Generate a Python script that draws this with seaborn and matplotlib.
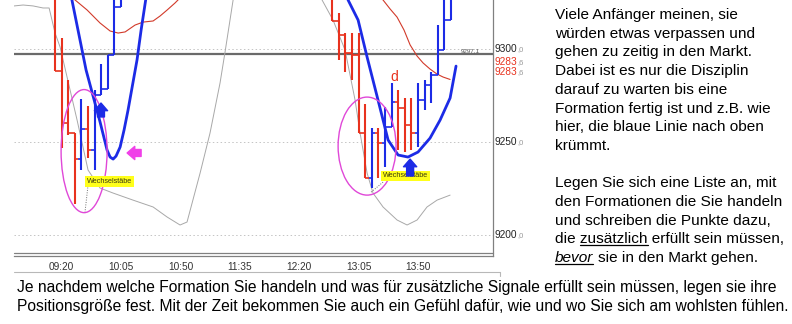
import numpy as np
import matplotlib
matplotlib.use("Agg")
import matplotlib.pyplot as plt
import seaborn as sns
from matplotlib.patches import Ellipse
from matplotlib.lines import Line2D
from matplotlib.transforms import blended_transform_factory

# ---------------- data (x = minutes since midnight, y = price) ----------------
bar_time = [555, 560, 565, 570, 575, 580, 585, 590, 595, 600, 605,
            765, 770, 775, 780, 785, 790, 795, 800, 805, 810, 815, 820, 825, 830, 835, 840, 845, 850, 855]
bar_open = [9332, 9288.1, 9260.1, 9254.7, 9240.7, 9256.9, 9245.6, 9275.2, 9278.4, 9296.8, 9322.6,
            9332, 9315.1, 9307.5, 9297.8, 9296.8, 9254.7, 9230.5, 9254.7, 9249.4, 9258.0,
            9271.4, 9268.2, 9259.1, 9254.7, 9272.5, 9280.6, 9286.0, 9299.5, 9315.6]
bar_high = [9335, 9305.9, 9283.3, 9254.7, 9273.1, 9269.3, 9277.9, 9291.9, 9296.8, 9335, 9335,
            9335, 9319.4, 9308.6, 9308.6, 9308.6, 9270.4, 9257.4, 9257.4, 9268.7, 9281.7,
            9277.9, 9273.6, 9273.6, 9281.7, 9283.3, 9287.6, 9312.9, 9335, 9335]
bar_low = [9288.1, 9246.7, 9253.7, 9216.5, 9234.8, 9241.3, 9234.8, 9275.2, 9278.4, 9296.8, 9322.6,
           9315.1, 9294.1, 9287.6, 9283.3, 9254.7, 9230.5, 9225.1, 9230.5, 9236.4, 9258.0,
           9245.6, 9244.5, 9245.6, 9247.2, 9267.1, 9270.9, 9286.0, 9299.5, 9315.6]
bar_close = [9288.1, 9260.1, 9254.7, 9240.7, 9256.9, 9245.6, 9275.2, 9278.4, 9296.8, 9322.6, 9333,
             9315.1, 9307.5, 9297.8, 9296.8, 9254.7, 9230.5, 9254.7, 9249.4, 9258.0, 9271.4,
             9268.2, 9259.1, 9254.7, 9272.5, 9280.6, 9286.0, 9299.5, 9315.6, 9330]

blue_l_t = [566.4, 578.5, 589.1, 594.4, 596.7, 599.0, 601.2, 604.3, 607.3, 610.3, 614.1, 617.1, 620.2, 624.0, 625.5]
blue_l_p = [9331.3, 9288.7, 9260.7, 9245.6, 9241.8, 9240.7, 9242.3, 9247.2, 9256.4, 9267.1, 9282.2, 9294.1, 9310.2, 9328.0, 9333.9]
blue_r_t = [775.5, 777.0, 784.6, 791.4, 799.7, 807.3, 814.9, 822.4, 830.0, 839.1, 846.7, 854.3, 858.8]
blue_r_p = [9330.7, 9326.4, 9315.6, 9295.7, 9272.5, 9251.0, 9242.9, 9241.8, 9244.5, 9252.0, 9261.7, 9273.6, 9290.8]

red_l_t = [566.4, 570.2, 579.3, 589.1, 596.7, 602.8, 608.1, 615.6, 621.7, 629.3, 634.6, 639.9, 645.9, 651.2]
red_l_p = [9328.6, 9326.4, 9321.0, 9314.0, 9309.7, 9308.6, 9309.2, 9312.9, 9314.5, 9315.1, 9317.8, 9321.0, 9324.8, 9328.6]
red_r_t = [799.7, 803.5, 808.8, 814.1, 819.4, 824.0, 829.3, 833.8, 839.1, 844.4, 849.0, 854.3]
red_r_p = [9329.1, 9326.4, 9321.6, 9317.2, 9310.2, 9302.2, 9296.2, 9292.5, 9289.2, 9286.5, 9284.9, 9283.6]

grey_l_t = [524.0, 530.8, 538.4, 545.9, 550.5, 555.0, 558.8, 564.1, 571.7, 580.0, 589.1, 599.0, 614.1,
            629.3, 639.9, 649.7, 655.0, 664.9, 672.4, 680.0, 683.8, 689.9, 691.4]
grey_l_p = [9323.2, 9323.7, 9323.2, 9322.1, 9322.1, 9308.6, 9301.1, 9284.9, 9261.7, 9234.8, 9225.1, 9222.4, 9218.6,
            9214.9, 9209.5, 9205.2, 9206.8, 9233.2, 9254.7, 9281.7, 9298.4, 9326.4, 9330.7]
grey_r_t = [755.8, 757.3, 765.6, 774.7, 782.3, 786.1, 791.4, 795.9, 803.5, 814.1, 821.7, 829.3, 836.8, 844.4, 854.3]
grey_r_p = [9329.1, 9326.4, 9315.6, 9299.5, 9272.5, 9254.7, 9233.2, 9222.4, 9214.9, 9207.9, 9205.2, 9207.9, 9214.9, 9218.6, 9221.3]

ref_level = 9297.1
grid_levels = [9300, 9250, 9200]
tick_times = [560, 605, 650, 695, 740, 785, 830]
tick_labels = ["09:20", "10:05", "10:50", "11:35", "12:20", "13:05", "13:50"]
price_labels = ["9300", "9283", "9283", "9250", "9200"]
price_decimals = [",0", ",6", ",6", ",0", ",0"]
price_label_pos = [9300, 9293.0, 9287.6, 9250, 9200]
price_label_colors = ["#222222", "#e8321e", "#e8321e", "#222222", "#222222"]

right_lines = ["Viele Anfänger meinen, sie", "würden etwas verpassen und", "gehen zu zeitig in den Markt.",
               "Dabei ist es nur die Disziplin", "darauf zu warten bis eine", "Formation fertig ist und z.B. wie",
               "hier, die blaue Linie nach oben", "krümmt.", "", "Legen Sie sich eine Liste an, mit",
               "den Formationen die Sie handeln", "und schreiben die Punkte dazu,"]
underline_line = ("die ", "zusätzlich", " erfüllt sein müssen,")
last_line = ("bevor", "sie in den Markt gehen.")
bottom_lines = ["Je nachdem welche Formation Sie handeln und was für zusätzliche Signale erfüllt sein müssen, legen sie ihre",
                "Positionsgröße fest. Mit der Zeit bekommen Sie auch ein Gefühl dafür, wie und wo Sie sich am wohlsten fühlen."]

# ---------------- style ----------------
sns.set_theme(style="white")
plt.rcParams['font.family'] = ['Liberation Sans', 'DejaVu Sans']

W, H = 792, 324
fig = plt.figure(figsize=(W / 100, H / 100), dpi=100)
fig.patch.set_facecolor("white")
ax_l, ax_r, ax_top, ax_bot = 14, 493, 0, 256
ax = fig.add_axes([ax_l / W, 1 - ax_bot / H, (ax_r - ax_l) / W, (ax_bot - ax_top) / H])
ax.set_facecolor("white")
ax.set_xlim(523.9, 886.8)
ax.set_ylim(9188.5, 9326.4)

RED = "#e8321e"
BLUE = "#1c2be6"

for lv in grid_levels:
    ax.axhline(lv, color="#c4c4c4", lw=0.7, ls=(0, (1.5, 2.5)), zorder=0)
ax.axhline(ref_level, color="#6a6a6a", lw=1.6, zorder=1)

sns.lineplot(x=grey_l_t, y=grey_l_p, sort=False, estimator=None, ax=ax, color="#a8a8a8", lw=0.7)
sns.lineplot(x=grey_r_t, y=grey_r_p, sort=False, estimator=None, ax=ax, color="#a8a8a8", lw=0.7)
sns.lineplot(x=red_l_t, y=red_l_p, sort=False, estimator=None, ax=ax, color="#d23a2a", lw=0.8)
sns.lineplot(x=red_r_t, y=red_r_p, sort=False, estimator=None, ax=ax, color="#d23a2a", lw=0.8)

t = np.array(bar_time, float)
o = np.array(bar_open); h = np.array(bar_high); l = np.array(bar_low); c = np.array(bar_close)
cols = [BLUE if cc >= oo else RED for oo, cc in zip(o, c)]
ax.vlines(t, l, h, colors=cols, lw=1.5, zorder=3)
ax.hlines(o, t - 2.5, t, colors=cols, lw=1.2, zorder=3)
ax.hlines(c, t, t + 2.5, colors=cols, lw=1.2, zorder=3)

sns.lineplot(x=blue_l_t, y=blue_l_p, sort=False, estimator=None, ax=ax, color=BLUE, lw=2.0, zorder=4)
sns.lineplot(x=blue_r_t, y=blue_r_p, sort=False, estimator=None, ax=ax, color=BLUE, lw=2.0, zorder=4)

PINK = "#e048d8"
ax.add_patch(Ellipse((577.0, 9245.0), 34.85, 66.3, fill=False, ec=PINK, lw=1.0, zorder=5))
ax.add_patch(Ellipse((791.4, 9247.7), 43.9, 52.8, fill=False, ec=PINK, lw=1.0, zorder=5))

ax.plot([580.0, 577.7], [9226.7, 9212.2], ls=(0, (1, 1.5)), color="#707070", lw=0.7, zorder=5)
ax.plot([803.5, 793.6], [9228.3, 9222.4], ls=(0, (1, 1.5)), color="#707070", lw=0.7, zorder=5)
for xx, yy in [(579.2, 9228.6), (803.5, 9231.6)]:
    ax.text(xx, yy, "Wechselstäbe", fontsize=5.2, va="center", ha="left", color="#3a3a10", zorder=6,
            bbox=dict(boxstyle="square,pad=0.25", fc="#ffff1a", ec="none"))

arrow_style = "simple,head_length=0.55,head_width=0.95,tail_width=0.5"
ax.annotate("", xy=(589.8, 9270.9), xytext=(589.8, 9263.4),
            arrowprops=dict(arrowstyle=arrow_style, color=BLUE, mutation_scale=10, shrinkA=0, shrinkB=0), zorder=6)
ax.annotate("", xy=(824.0, 9240.7), xytext=(824.0, 9231.6),
            arrowprops=dict(arrowstyle=arrow_style, color=BLUE, mutation_scale=10, shrinkA=0, shrinkB=0), zorder=6)
ax.annotate("", xy=(609.6, 9244.0), xytext=(620.2, 9244.0),
            arrowprops=dict(arrowstyle=arrow_style, color="#f040e8", mutation_scale=10, shrinkA=0, shrinkB=0), zorder=6)

ax.text(811.8, 9284.9, "d", fontsize=10, color=RED, ha="center", va="center", zorder=6)
ax.text(877, ref_level + 0.6, "9297,1", fontsize=4.5, color="#555555", ha="right", va="bottom", zorder=6)

# axes frame
for s in ["top", "left"]:
    ax.spines[s].set_visible(False)
ax.spines["right"].set_color("#808080"); ax.spines["right"].set_linewidth(0.9)
ax.spines["bottom"].set_color("#808080"); ax.spines["bottom"].set_linewidth(0.9)
ax.plot([0, 1], [2.6 / 256, 2.6 / 256], transform=ax.transAxes, color="#808080", lw=0.9, clip_on=False)
ax.set_yticks([])
ax.set_xticks(tick_times)
ax.set_xticklabels(tick_labels, fontsize=7.3, color="#333333")
ax.tick_params(axis="x", length=0, pad=4)
ax.set_xlabel(""); ax.set_ylabel("")

tr = blended_transform_factory(ax.transAxes, ax.transData)
for lab, dec, pos, col in zip(price_labels, price_decimals, price_label_pos, price_label_colors):
    t1 = ax.text(1 + 1.5 / 479, pos, lab, transform=tr, fontsize=7.3, color=col, va="center", ha="left", clip_on=False)
    ax.annotate(dec, xy=(1, 0.08), xycoords=t1, fontsize=5.5, color="#999999", va="bottom", ha="left")

fig.add_artist(Line2D([14 / W, 500 / W], [1 - 272 / H, 1 - 272 / H], color="#b8b8b8", lw=0.8))
fig.add_artist(Line2D([500 / W, 500 / W], [1 - 272 / H, 1 - 276 / H], color="#b8b8b8", lw=0.8))

# ---------------- text ----------------
FS = 11.05
FSB = 11.25
x0 = 555 / W
base0, step = 19, 18.7
for i, line in enumerate(right_lines):
    if line:
        fig.text(x0, 1 - (base0 + step * i) / H, line, fontsize=FS, color="black", va="baseline", ha="left")

renderer = fig.canvas.get_renderer()

def width_px(s, **kw):
    tmp = fig.text(0, 0, s, fontsize=FS, **kw)
    w = tmp.get_window_extent(renderer).width
    tmp.remove()
    return w

i = len(right_lines)
yb = base0 + step * i
full = "".join(underline_line)
fig.text(x0, 1 - yb / H, full, fontsize=FS, color="black", va="baseline", ha="left")
w_a = width_px(underline_line[0] + underline_line[1])
w_b = width_px(underline_line[1])
u0 = 555 + w_a - w_b
u1 = 555 + w_a
fig.add_artist(Line2D([u0 / W, u1 / W], [1 - (yb + 2) / H] * 2, color="black", lw=0.9))

i += 1
yb = base0 + step * i
fig.text(x0, 1 - yb / H, last_line[0], fontsize=FS, color="black", va="baseline", ha="left", fontstyle="italic")
w_bev = width_px(last_line[0], fontstyle="italic")
space = 0.278 * FS * 100 / 72
fig.text((555 + w_bev + space) / W, 1 - yb / H, last_line[1], fontsize=FS, color="black", va="baseline", ha="left")
fig.add_artist(Line2D([555 / W, (555 + w_bev) / W], [1 - (yb + 2) / H] * 2, color="black", lw=0.9))

for j, line in enumerate(bottom_lines):
    fig.text(17 / W, 1 - (292 + 19 * j) / H, line, fontsize=FSB, color="black", va="baseline", ha="left")

fig.savefig("out.png", dpi=100, facecolor="white")
